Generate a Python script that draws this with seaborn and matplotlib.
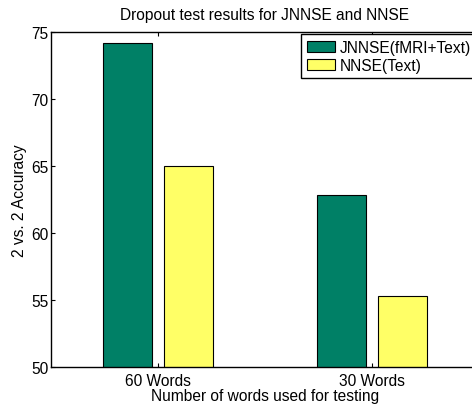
import matplotlib
matplotlib.use("Agg")
import matplotlib.pyplot as plt
import seaborn as sns
import pandas as pd

categories = ["60 Words", "30 Words"]
series_names = ["JNNSE(fMRI+Text)", "NNSE(Text)"]
jnnse_values = [74.2, 62.8]
nnse_values = [65.0, 55.3]
yticks = [50, 55, 60, 65, 70, 75]

df = pd.DataFrame({
    "cat": categories * 2,
    "series": [series_names[0]] * 2 + [series_names[1]] * 2,
    "value": jnnse_values + nnse_values,
})

sns.set_theme(style="white")
plt.rcParams["font.family"] = ["Liberation Sans", "DejaVu Sans"]
plt.rcParams.update({"text.color": "black", "axes.labelcolor": "black",
                     "xtick.color": "black", "ytick.color": "black"})
FS = 11.2

fig = plt.figure(figsize=(4.72, 4.06), dpi=100)
ax = fig.add_axes([51 / 472, 38 / 406, 428 / 472, 335 / 406])

palette = {series_names[0]: "#008066", series_names[1]: "#FFFF66"}
sns.barplot(data=df, x="cat", y="value", hue="series", order=categories,
            hue_order=series_names, palette=palette, width=0.57, gap=0.2,
            edgecolor="black", linewidth=0.8, saturation=1, ax=ax, errorbar=None)

ax.set_xlim(-0.5, 1.5)
ax.set_ylim(50, 75)
ax.set_yticks(yticks)
ax.set_yticklabels([str(t) for t in yticks], fontsize=FS)
ax.tick_params(axis="x", labelsize=FS, pad=4)
ax.tick_params(axis="y", pad=2)
ax.tick_params(direction="in", length=3, width=0.8, color="black",
               labelcolor="black", top=True, right=True, bottom=True, left=True)
for s in ax.spines.values():
    s.set_visible(True)
    s.set_color("black")
    s.set_linewidth(1.0)

ax.set_xlabel("Number of words used for testing", fontsize=FS, labelpad=0,
              color="black")
ax.set_ylabel("2 vs. 2 Accuracy", fontsize=FS, labelpad=3, color="black")
ax.set_title("Dropout test results for JNNSE and NNSE", fontsize=FS, pad=9.5,
             color="black")

handles, labels = ax.get_legend_handles_labels()
leg = ax.legend(handles, labels, loc="upper right", fontsize=FS, frameon=True,
                fancybox=False, edgecolor="black", framealpha=1,
                borderaxespad=0.15, borderpad=0.35, handlelength=1.85,
                handleheight=0.7, handletextpad=0.3, labelspacing=0.2)
leg.get_frame().set_linewidth(1.0)
for t in leg.get_texts():
    t.set_color("black")

fig.savefig("out.png", dpi=100)
